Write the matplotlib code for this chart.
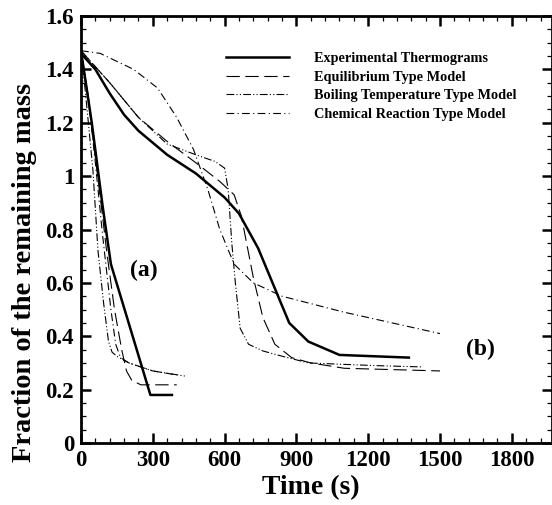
import matplotlib
matplotlib.use("Agg")
import matplotlib.pyplot as plt
from matplotlib.ticker import MultipleLocator

plt.rcParams['font.family'] = ['Liberation Serif', 'DejaVu Serif']
plt.rcParams['font.weight'] = 'bold'

# case (a)
t_exp_a = [0, 45, 90, 125, 290, 380]
m_exp_a = [1.47, 1.20, 0.89, 0.67, 0.18, 0.18]
t_eq_a = [0, 30, 60, 90, 107, 140, 170, 190, 212, 250, 400]
m_eq_a = [1.47, 1.30, 1.07, 0.85, 0.72, 0.50, 0.35, 0.27, 0.235, 0.218, 0.218]
t_boil_a = [0, 20, 50, 71, 95, 115, 130, 150, 200, 300, 440]
m_boil_a = [1.47, 1.30, 1.02, 0.72, 0.52, 0.38, 0.34, 0.325, 0.30, 0.27, 0.25]
t_chem_a = [0, 30, 60, 90, 105, 125, 145, 165, 200, 300, 400]
m_chem_a = [1.47, 1.30, 1.05, 0.78, 0.66, 0.50, 0.37, 0.32, 0.30, 0.27, 0.255]

# case (b)
t_exp_b = [0, 60, 120, 180, 240, 360, 480, 600, 660, 740, 870, 950, 1080, 1370]
m_exp_b = [1.46, 1.40, 1.31, 1.23, 1.17, 1.08, 1.01, 0.92, 0.86, 0.73, 0.45, 0.38, 0.33, 0.32]
t_eq_b = [0, 120, 240, 360, 480, 580, 640, 670, 720, 760, 810, 880, 960, 1100, 1500]
m_eq_b = [1.47, 1.35, 1.22, 1.13, 1.05, 0.98, 0.93, 0.85, 0.62, 0.47, 0.37, 0.32, 0.30, 0.28, 0.27]
t_boil_b = [0, 120, 240, 360, 480, 560, 600, 615, 630, 645, 665, 700, 760, 820, 950, 1230, 1430]
m_boil_b = [1.47, 1.35, 1.22, 1.12, 1.08, 1.055, 1.03, 0.95, 0.75, 0.60, 0.43, 0.37, 0.345, 0.33, 0.30, 0.29, 0.285]
t_chem_b = [0, 80, 220, 320, 400, 470, 530, 580, 640, 720, 840, 1100, 1500]
m_chem_b = [1.47, 1.46, 1.40, 1.33, 1.22, 1.10, 0.95, 0.80, 0.67, 0.60, 0.55, 0.49, 0.41]

labels = ['Experimental Thermograms', 'Equilibrium Type Model',
          'Boiling Temperature Type Model', 'Chemical Reaction Type Model']

fig = plt.figure(figsize=(5.52, 5.05), dpi=100)
ax = fig.add_axes([81 / 552, 62 / 505, 1 - 81 / 552, 427 / 505])

exp_style = dict(color='black', lw=1.8, ls='-')
eq_style = dict(color='black', lw=0.8, ls=(0, (12, 5)))
boil_style = dict(color='black', lw=0.8, ls=(0, (7, 2, 1, 2, 1, 2)))
chem_style = dict(color='black', lw=0.8, ls=(0, (7, 3, 1, 3)))

ax.plot(t_exp_a, m_exp_a, **exp_style)
ax.plot(t_eq_a, m_eq_a, **eq_style)
ax.plot(t_boil_a, m_boil_a, **boil_style)
ax.plot(t_chem_a, m_chem_a, **chem_style)

ax.plot(t_exp_b, m_exp_b, label=labels[0], **exp_style)
ax.plot(t_eq_b, m_eq_b, label=labels[1], **eq_style)
ax.plot(t_boil_b, m_boil_b, label=labels[2], **boil_style)
ax.plot(t_chem_b, m_chem_b, label=labels[3], **chem_style)

ax.set_xlim(0, 1968)
ax.set_ylim(0, 1.6)
ax.xaxis.set_major_locator(MultipleLocator(300))
ax.xaxis.set_minor_locator(MultipleLocator(60))
ax.yaxis.set_major_locator(MultipleLocator(0.2))
ax.yaxis.set_minor_locator(MultipleLocator(0.05))
ax.set_yticks([0, 0.2, 0.4, 0.6, 0.8, 1.0, 1.2, 1.4, 1.6])
ax.set_yticklabels(['0', '0.2', '0.4', '0.6', '0.8', '1', '1.2', '1.4', '1.6'])

ax.tick_params(which='both', direction='in', top=True, right=True, labelsize=16.5)
ax.tick_params(which='major', length=7, width=1.8, pad=5)
ax.tick_params(which='minor', length=3.5, width=0.9)
for s in ax.spines.values():
    s.set_linewidth(2)

ax.set_xlabel('Time (s)', fontsize=20, fontweight='bold')
ax.xaxis.set_label_coords(0.487, -0.075)
ax.set_ylabel('Fraction of the remaining mass', fontsize=20.5, fontweight='bold')
ax.yaxis.set_label_coords(-0.093, 0.40)

ax.text(263, 0.645, '(a)', fontsize=17, fontweight='bold', ha='center', va='center')
ax.text(1667, 0.35, '(b)', fontsize=17, fontweight='bold', ha='center', va='center')

ax.legend(loc='upper left', bbox_to_anchor=(0.28, 0.945), frameon=False,
          prop={'family': 'Liberation Serif', 'weight': 'bold', 'size': 10.3},
          handlelength=4.4, handletextpad=1.8, labelspacing=0.38)

fig.savefig('out.png', dpi=100)
